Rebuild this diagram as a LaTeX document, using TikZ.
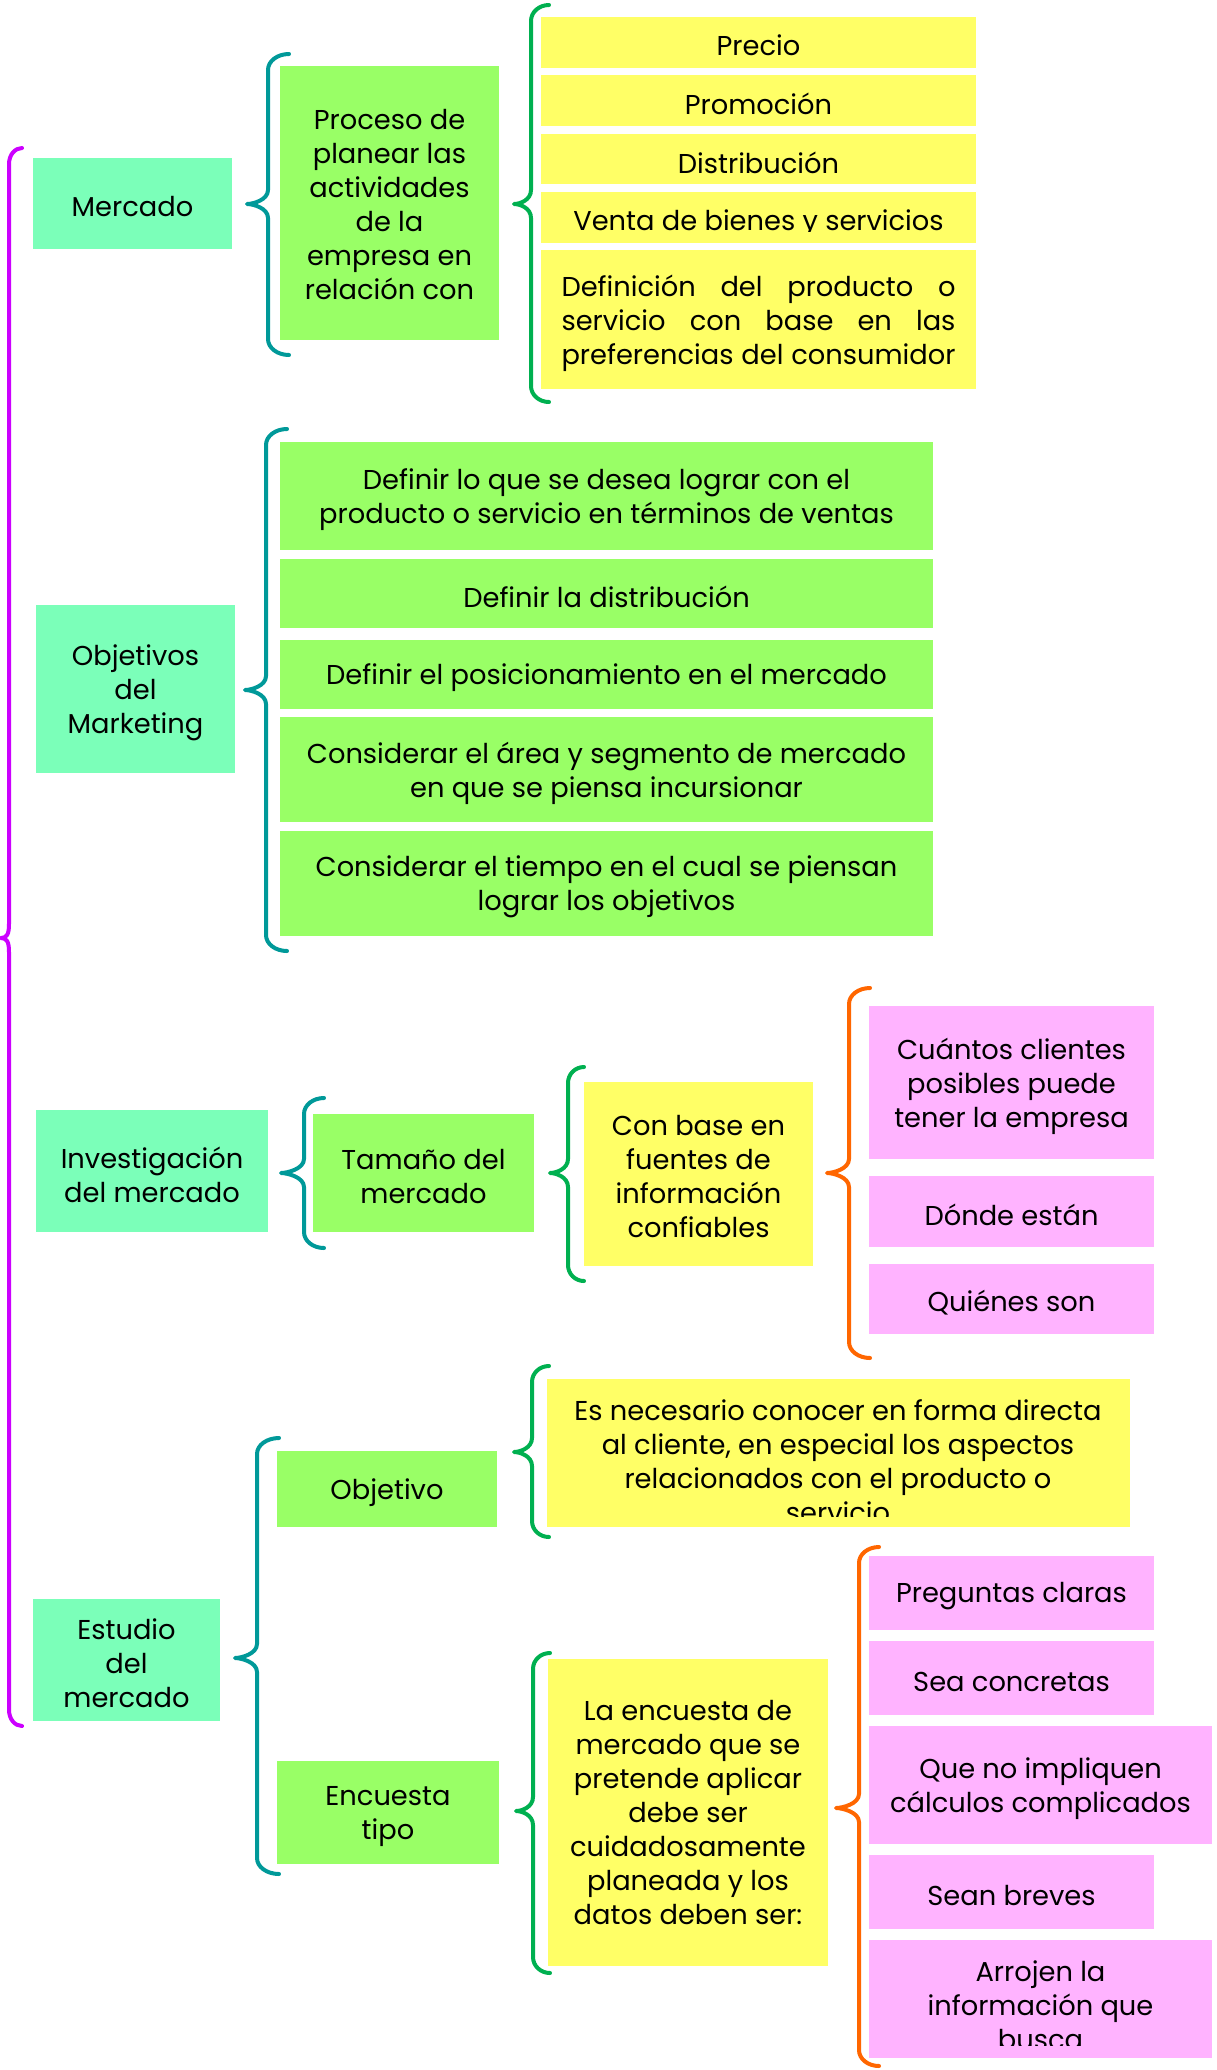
\documentclass[tikz,border=0pt]{standalone}
\usepackage{fontspec}
\setmainfont{Poppins}
\definecolor{mint}{HTML}{7BFFB9}
\definecolor{lgreen}{HTML}{99FF66}
\definecolor{lyellow}{HTML}{FFFF66}
\definecolor{lpink}{HTML}{FFB3FF}
\definecolor{bpurple}{HTML}{CC00FF}
\definecolor{bteal}{HTML}{009999}
\definecolor{bgreen}{HTML}{00B050}
\definecolor{borange}{HTML}{FF6600}
\tikzset{
  boxst/.style={inner sep=0pt, outer sep=0pt, draw=none},
  txt/.style={inner sep=0pt, outer sep=0pt, align=center, text=black,
    font=\fontsize{27.3}{34}\selectfont},
  bracest/.style={line width=4pt, line cap=round, line join=round}
}
% [text shift], name, colour, x1, y1, x2, y2, text
\newcommand\boxat[8][-3.5pt]{%
  \node[boxst, fill=#3, minimum width={(#6-#4)*1pt}, minimum height={(#7-#5)*1pt}]
    (#2) at ({(#4+#6)/2},{(#5+#7)/2}) {};
  \node[txt] (#2-t) at ([yshift=#1]#2.center) {#8};}
% colour, xv, top, bottom, tipx, tipy, endx
\newcommand\curlybr[7]{%
  \draw[bracest, #1] (#7,#3) .. controls ({#2+0.45*(#7-#2)},#3) and (#2,{#3+7}) .. (#2,{#3+16})
    -- (#2,{#6-14}) .. controls (#2,{#6-4}) and ({#5+6},#6) .. (#5,#6)
    .. controls ({#5+6},#6) and (#2,{#6+4}) .. (#2,{#6+14})
    -- (#2,{#4-16}) .. controls (#2,{#4-7}) and ({#2+0.45*(#7-#2)},#4) .. (#7,#4);}
\begin{document}
\begin{tikzpicture}[x=1pt,y=-1pt]
\fill[white] (0,0) rectangle (1217,2070);
\useasboundingbox (0,0) rectangle (1217,2070);

% ---------- Mercado ----------
\boxat{mercado}{mint}{33}{158}{232}{249}{Mercado}
\boxat[-2pt]{proceso}{lgreen}{280}{66}{499}{340}{Proceso de\\planear las\\actividades\\de la\\empresa en\\relación con}
\boxat{precio}{lyellow}{541}{17}{976}{68}{}
\boxat{promo}{lyellow}{541}{75}{976}{126}{}
\boxat{distr}{lyellow}{541}{134}{976}{184}{}
\boxat{venta}{lyellow}{541}{192}{976}{243}{}
\boxat{defin}{lyellow}{541}{250}{976}{389}{%
  \hbox to 394pt{Definición\hfill del\hfill producto\hfill o}\\
  \hbox to 394pt{servicio\hfill con\hfill base\hfill en\hfill las}\\
  \hbox to 394pt{preferencias\hfill del\hfill consumidor}}
\begin{scope}\clip (541,17) rectangle (976,56);
  \node[txt, anchor=base] (tprecio) at (758.5,55) {Precio};\end{scope}
\begin{scope}\clip (541,75) rectangle (976,115);
  \node[txt, anchor=base] (tpromo) at (758.5,114) {Promoción};\end{scope}
\begin{scope}\clip (541,134) rectangle (976,174);
  \node[txt, anchor=base] (tdistr) at (758.5,173) {Distribución};\end{scope}
\begin{scope}\clip (541,192) rectangle (976,231);
  \node[txt, anchor=base] (tventa) at (758.5,230) {Venta de bienes y servicios};\end{scope}

% ---------- Objetivos del Marketing ----------
\boxat{objmk}{mint}{36}{605}{235}{773}{Objetivos\\del\\Marketing}
\boxat{g1}{lgreen}{280}{442}{933}{550}{Definir lo que se desea lograr con el\\producto o servicio en términos de ventas}
\boxat{g2}{lgreen}{280}{559}{933}{628}{Definir la distribución}
\boxat{g3}{lgreen}{280}{640}{933}{709}{Definir el posicionamiento en el mercado}
\boxat{g4}{lgreen}{280}{717}{933}{822}{Considerar el área y segmento de mercado\\en que se piensa incursionar}
\boxat{g5}{lgreen}{280}{831}{933}{936}{Considerar el tiempo en el cual se piensan\\lograr los objetivos}

% ---------- Investigación del mercado ----------
\boxat{invest}{mint}{36}{1110}{268}{1232}{Investigación\\del mercado}
\boxat{tamano}{lgreen}{313}{1114}{534}{1232}{Tamaño del\\mercado}
\boxat[-2.5pt]{conbase}{lyellow}{584}{1082}{813}{1266}{Con base en\\fuentes de\\información\\confiables}
\boxat{cuantos}{lpink}{869}{1006}{1154}{1159}{Cuántos clientes\\posibles puede\\tener la empresa}
\boxat{donde}{lpink}{869}{1176}{1154}{1247}{Dónde están}
\boxat{quienes}{lpink}{869}{1264}{1154}{1334}{Quiénes son}

% ---------- Estudio del mercado ----------
\boxat{estudio}{mint}{33}{1599}{220}{1721}{Estudio\\del\\mercado}
\boxat{objetivo}{lgreen}{277}{1451}{497}{1527}{Objetivo}
\boxat{encuesta}{lgreen}{277}{1761}{499}{1864}{Encuesta\\tipo}
\boxat{esnec}{lyellow}{547}{1379}{1130}{1527}{}
\begin{scope}\clip (547,1379) rectangle (1130,1516);
  \node[txt] (tesnec) at (838,1461) {Es necesario conocer en forma directa\\al cliente, en especial los aspectos\\relacionados con el producto o\\servicio};\end{scope}
\boxat[0pt]{laenc}{lyellow}{548}{1659}{828}{1966}{La encuesta de\\mercado que se\\pretende aplicar\\debe ser\\cuidadosamente\\planeada y los\\datos deben ser:}
\boxat{preg}{lpink}{869}{1556}{1154}{1630}{Preguntas claras}
\boxat{seac}{lpink}{869}{1641}{1154}{1715}{Sea concretas}
\boxat{queno}{lpink}{869}{1726}{1212}{1844}{Que no impliquen\\cálculos complicados}
\boxat{seanb}{lpink}{869}{1855}{1154}{1929}{Sean breves}
\boxat{arroj}{lpink}{869}{1940}{1212}{2058}{}
\begin{scope}\clip (869,1940) rectangle (1212,2045);
  \node[txt] (tarroj) at (1040.5,2005) {Arrojen la\\información que\\busca};\end{scope}

% ---------- Braces ----------
\curlybr{bpurple}{9}{148}{1726}{1}{938}{22}
\curlybr{bteal}{268}{54}{355}{247}{204}{289}
\curlybr{bgreen}{531}{5}{402}{514}{204}{549}
\curlybr{bteal}{266}{429}{951}{245}{690}{287}
\curlybr{bteal}{304}{1098}{1248}{281}{1173}{324}
\curlybr{bgreen}{568}{1067}{1281}{550}{1173}{584}
\curlybr{borange}{849}{988}{1358}{827}{1173}{870}
\curlybr{bteal}{257}{1438}{1874}{235}{1658}{279}
\curlybr{bgreen}{532}{1366}{1537}{514}{1452}{549}
\curlybr{bgreen}{533}{1653}{1973}{516}{1811}{550}
\curlybr{borange}{859}{1547}{2066}{836}{1808}{879}
\end{tikzpicture}
\end{document}
